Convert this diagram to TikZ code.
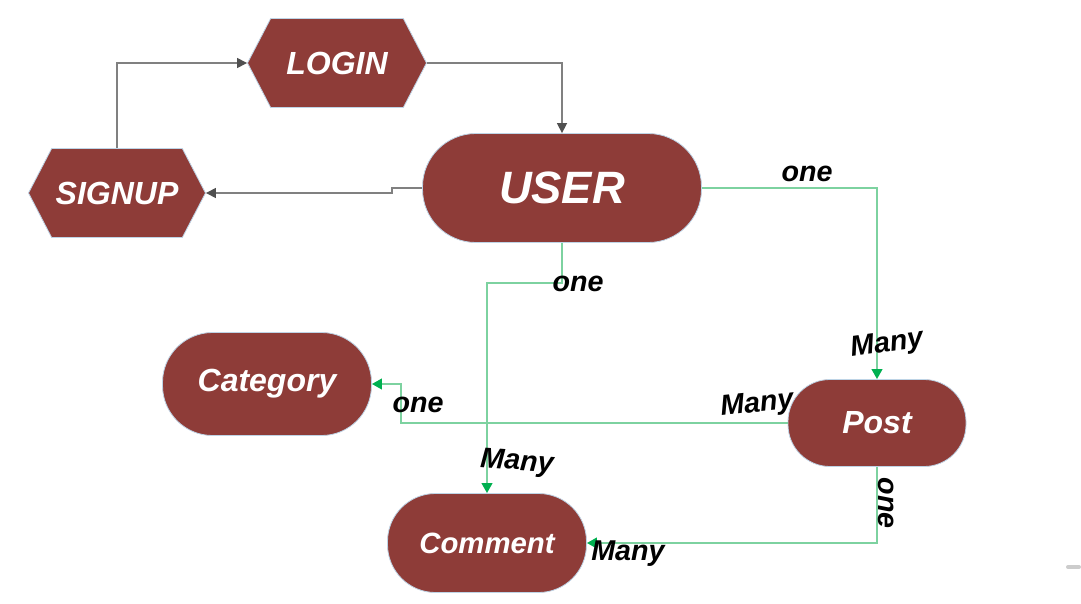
\documentclass[tikz,border=0pt]{standalone}
\usepackage{fontspec}
\setmainfont{Liberation Sans}
\usetikzlibrary{arrows.meta,shapes.symbols}

\definecolor{boxred}{RGB}{142,60,56}
\definecolor{edgeblue}{RGB}{190,212,230}
\definecolor{linegray}{RGB}{128,128,128}
\definecolor{tipgray}{RGB}{80,80,80}
\definecolor{linegreen}{RGB}{125,210,160}
\definecolor{tipgreen}{RGB}{0,176,80}

\begin{document}
\begin{tikzpicture}[x=0.75pt, y=-0.75pt,
  hex node/.style={signal, signal to=east and west, signal pointer angle=125, fill=boxred, draw=edgeblue, line width=0.6pt, text=white, font=\fontsize{24}{24}\selectfont\bfseries\itshape, inner sep=0pt},
  round node/.style={rectangle, fill=boxred, draw=edgeblue, line width=0.6pt, text=white, font=\fontsize{24}{24}\selectfont\bfseries\itshape, inner sep=0pt},
  gray link/.style={draw=linegray, line width=1.1pt, -{Triangle[length=7.5pt,width=7.5pt,color=tipgray]}},
  green link/.style={draw=linegreen, line width=1.4pt, -{Triangle[length=7.5pt,width=8pt,color=tipgreen]}},
  tag/.style={font=\fontsize{21.5}{21.5}\selectfont\bfseries\itshape, inner sep=1pt}]

\useasboundingbox (0,0) rectangle (1081,603);

\node[hex node, minimum width=134.25pt, minimum height=66.75pt](login) at (337,63) {LOGIN};
\node[hex node, minimum width=132.75pt, minimum height=66.75pt](signup) at (117,193) {SIGNUP};
\node[round node, minimum width=209.25pt, minimum height=81.75pt, rounded corners=40pt, font=\fontsize{34}{34}\selectfont\bfseries\itshape](user) at (562,188) {USER};
\node[round node, minimum width=156.75pt, minimum height=77.25pt, rounded corners=37.5pt](category) at (267,384) {Category};
\node[round node, minimum width=133.5pt, minimum height=65.25pt, rounded corners=31.5pt](post) at (877,423) {Post};
\node[round node, minimum width=149.25pt, minimum height=74.25pt, rounded corners=36pt, font=\fontsize{22}{22}\selectfont\bfseries\itshape](comment) at (487,543) {Comment};

\coordinate (bendA) at (392,188);
\coordinate (bendB) at (392,193);
\coordinate (bendC) at (562,283);
\coordinate (bendD) at (401,423);

% login / signup
\draw[gray link] (signup.north) |- (login.west);
\draw[gray link] (login.east) -| (user.north);
\draw[gray link] (user.west) -- (bendA) -- (bendB) -- (signup.east);

% relations
\draw[green link] (user.east) -| (post.north);
\draw[green link] (user.south) -- (bendC) -| (comment.north);
\draw[green link] (post.west) -- (bendD) |- (category.east);
\draw[green link] (post.south) |- (comment.east);

\node[tag] (t1) at (807,174) {one};
\node[tag, rotate=8] (t2) at (887,345) {Many};
\node[tag] (t3) at (578,284) {one};
\node[tag, rotate=-4] (t4) at (517,463) {Many};
\node[tag, rotate=6] (t5) at (757,405) {Many};
\node[tag] (t6) at (418,405) {one};
\node[tag, rotate=-90] (t7) at (886,503) {one};
\node[tag] (t8) at (628,554) {Many};

\draw[gray!40, line width=3pt, line cap=round] (1068,567) -- (1079,567);

\end{tikzpicture}
\end{document}
